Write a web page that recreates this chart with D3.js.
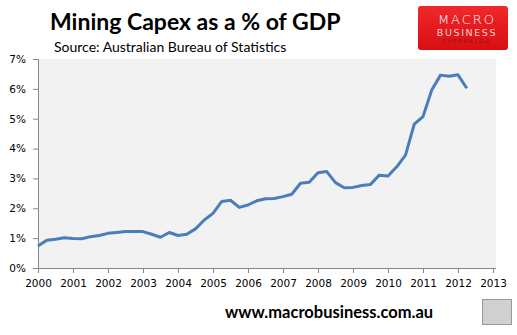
<!DOCTYPE html>
<html>
<head>
<meta charset="utf-8">
<script src="https://cdn.jsdelivr.net/npm/d3@7"></script>
<style>
  body { margin: 0; background: #fff; }
  svg { display: block; }
</style>
</head>
<body>
<div id="chart"></div>
<script>
// quarterly, 2000 Q1 .. 2012 Q2
const startYear = 2000;
const capexPct = [
  0.74, 0.93, 0.96, 1.01, 0.99, 0.98, 1.05, 1.09, 1.16, 1.19,
  1.22, 1.22, 1.22, 1.13, 1.03, 1.19, 1.09, 1.13, 1.31, 1.61,
  1.83, 2.23, 2.27, 2.03, 2.11, 2.25, 2.32, 2.33, 2.39, 2.47,
  2.84, 2.87, 3.19, 3.23, 2.86, 2.69, 2.70, 2.76, 2.80, 3.11,
  3.08, 3.39, 3.78, 4.82, 5.07, 5.96, 6.46, 6.42, 6.47, 6.02
];
const yearTicks = d3.range(2000, 2014);
const pctTicks = [0, 1, 2, 3, 4, 5, 6, 7];

const width = 517, height = 335;
const margin = {left: 38, right: 21, top: 59, bottom: 67};

const svg = d3.select("#chart").append("svg")
    .attr("width", width)
    .attr("height", height);

let x = d3.scaleLinear()
    .domain([2000, 2013])
    .range([margin.left, width - margin.right - 3]);

let y = d3.scaleLinear()
    .domain([0, 7])
    .range([height - margin.bottom, margin.top]);

// plot background
svg.append("rect")
    .attr("x", margin.left)
    .attr("y", margin.top)
    .attr("width", width - margin.right - margin.left)
    .attr("height", y(0) - margin.top)
    .attr("fill", "#f2f2f2");

let yAxis = svg.append("g")
    .attr("transform", `translate(${margin.left}, 0)`)
    .call(d3.axisLeft(y).tickValues(pctTicks).tickSize(5).tickPadding(7)
        .tickFormat(d => d + "%"));

let xAxis = svg.append("g")
    .attr("transform", `translate(0, ${y(0)})`)
    .call(d3.axisBottom(x).tickValues(yearTicks).tickSize(5).tickPadding(7)
        .tickFormat(d3.format("d")));

xAxis.select(".domain").attr("d", `M${margin.left},0.5H${width - margin.right}`);

[xAxis, yAxis].forEach(a => {
    a.selectAll(".domain, line").attr("stroke", "#868686");
    a.selectAll("text")
        .attr("fill", "#000")
        .style("font-family", "'DejaVu Sans', Verdana, sans-serif")
        .style("font-size", "10.5px");
});

let line = d3.line()
    .x((d, i) => x(startYear + i * 0.25))
    .y(d => y(d));

svg.append("path")
    .datum(capexPct)
    .attr("d", line)
    .attr("fill", "none")
    .attr("stroke", "#4a7ebb")
    .attr("stroke-width", 3)
    .attr("stroke-linejoin", "round");

// titles
svg.append("text")
    .attr("x", 50)
    .attr("y", 30)
    .style("font-family", "Lato, 'Open Sans', sans-serif")
    .style("font-weight", "bold")
    .style("font-size", "23px")
    .text("Mining Capex as a % of GDP");

svg.append("text")
    .attr("x", 54)
    .attr("y", 52)
    .style("font-family", "Lato, 'Open Sans', sans-serif")
    .style("font-size", "14px")
    .text("Source: Australian Bureau of Statistics");

// logo box
let logo = svg.append("g");
let grad = svg.append("defs").append("linearGradient")
    .attr("id", "red").attr("x1", 0).attr("y1", 0).attr("x2", 0).attr("y2", 1);
grad.append("stop").attr("offset", "0%").attr("stop-color", "#f0282a");
grad.append("stop").attr("offset", "100%").attr("stop-color", "#d80f12");
logo.append("rect")
    .attr("x", 418).attr("y", 6)
    .attr("width", 90).attr("height", 44)
    .attr("rx", 3)
    .attr("fill", "url(#red)");
logo.append("text")
    .attr("x", 467).attr("y", 24)
    .attr("text-anchor", "middle")
    .attr("fill", "#fff")
    .style("font-family", "'DejaVu Sans', sans-serif")
    .style("font-size", "13px")
    .style("font-weight", "200")
    .style("letter-spacing", "2px")
    .text("MACRO");
logo.append("text")
    .attr("x", 467).attr("y", 36)
    .attr("text-anchor", "middle")
    .attr("fill", "#fbd0d0")
    .style("font-family", "'DejaVu Sans', sans-serif")
    .style("font-size", "9.5px")
    .style("letter-spacing", "1.6px")
    .text("BUSINESS");
logo.append("text")
    .attr("x", 467).attr("y", 43)
    .attr("text-anchor", "middle")
    .attr("fill", "#9a0a0c")
    .style("font-family", "'DejaVu Sans', sans-serif")
    .style("font-size", "5px")
    .style("letter-spacing", "2px")
    .text("SUPERBLOG");

// footer
svg.append("text")
    .attr("x", 225)
    .attr("y", 318)
    .style("font-family", "Lato, 'Open Sans', sans-serif")
    .style("font-weight", "bold")
    .style("font-size", "16.5px")
    .text("www.macrobusiness.com.au");

svg.append("rect")
    .attr("x", 482.5).attr("y", 299.5)
    .attr("width", 29).attr("height", 25)
    .attr("fill", "#d0d0d0")
    .attr("stroke", "#999");
</script>
</body>
</html>
